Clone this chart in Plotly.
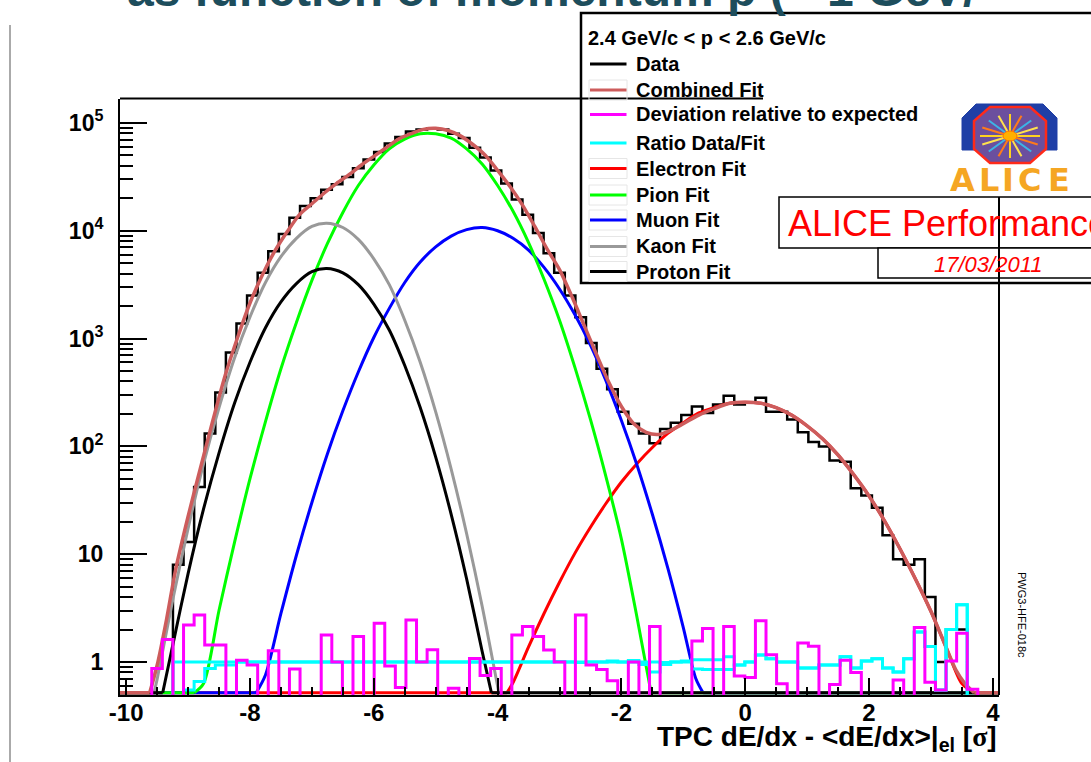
import numpy as np
import plotly.graph_objects as go

# ------------------------------------------------------------------ data
x_low, x_high, n_bins = -10.1, 4.1, 83

data_counts = [0, 0, 0, 0, 0, 8, 13, 42, 132, 316,
               741, 1380, 2510, 4070, 6460, 9330, 13200, 17000, 20000, 24000,
               27000, 31600, 38000, 45700, 53700, 64600, 74100, 83200, 87100, 89100,
               87100, 79400, 72400, 58900, 47900, 36300, 27500, 19500, 14100, 9550,
               6170, 4070, 2510, 1580, 912, 525, 339, 209, 162, 132,
               107, 145, 166, 195, 234, 204, 245, 295, 245, 257,
               282, 209, 209, 178, 135, 110, 100, 74, 72, 41,
               35, 27, 15, 9, 8, 9, 4, 1, 2, 2,
               0, 0, 0]

deviation = [0, 0, 0, 0.87, 1.62, 0, 2.2, 2.73, 1.44, 1.44,
             0, 1.04, 0.94, 0, 1.27, 0, 0.86, 0, 0, 1.78,
             1.0, 0, 1.72, 0, 2.29, 0.92, 0.58, 2.45, 1.0, 1.3,
             0, 0.57, 0, 1.08, 0.75, 0.87, 0, 1.78, 2.13, 1.72,
             1.29, 1.0, 0, 2.73, 0.94, 0.85, 0.67, 0, 1.0, 0,
             2.13, 0, 0, 0, 1.57, 2.05, 0, 2.13, 0.74, 0.72,
             2.42, 1.17, 0.63, 0, 1.5, 1.4, 0, 0.62, 1.04, 0.8,
             0, 0, 0, 0.68, 0, 2.09, 0.65, 0.55, 1.02, 1.85,
             0.56, 0, 0]

ratio_main = [0, 0, 0, 0, 0, 1.0, 1.0, 1.0, 1.0, 1.0,
              1.0, 1.0, 1.0, 1.0, 1.0, 1.0, 1.0, 1.0, 1.0, 1.0,
              1.0, 1.0, 1.0, 1.0, 1.0, 1.0, 1.0, 1.0, 1.0, 1.0,
              1.0, 1.0, 1.0, 1.0, 1.0, 1.0, 1.0, 1.0, 1.0, 1.0,
              1.0, 1.01, 1.0, 0.99, 1.0, 1.0, 1.02, 1.0, 1.03, 1.0,
              1.0, 0.99, 1.0, 1.02, 1.05, 1.05, 1.05, 1.12, 0.94, 1.0,
              1.16, 1.07, 1.0, 1.0, 0.88, 0.88, 0.94, 0.94, 1.12, 0.88,
              1.02, 1.07, 0.88, 0.81, 1.07, 1.9, 1.39, 0.55, 2.0, 3.4,
              0, 0, 0]

ratio_low = [0, 0, 0, 0, 0, 0, 0.55, 0.66, 0.87, 0.94,
             0.94, 1.0, 1.0, 1.0, 1.0, 1.0, 1.0, 1.0, 1.0, 1.0,
             1.0, 1.0, 1.0, 1.0, 1.0, 1.0, 1.0, 1.0, 1.0, 1.0,
             1.0, 1.0, 1.0, 1.0, 1.0, 1.0, 1.0, 1.0, 1.0, 1.0,
             1.0, 1.0, 1.0, 1.0, 1.0, 1.0, 1.0, 1.0, 1.0, 0.95,
             0.81, 0.95, 1.0, 1.0, 0.86, 0.85, 0.85, 0.85, 0.94, 1.0,
             1.16, 1.07, 1.0, 1.0, 0.88, 0.88, 0.94, 0.94, 1.12, 0.88,
             1.02, 1.07, 0.88, 0.81, 1.07, 1.9, 1.39, 0.55, 2.0, 3.4,
             0, 0, 0]

# fit curves: sample positions and log10(counts)
comb_x = [-9.62, -9.5, -9.35, -9.2, -9.0, -8.8, -8.6, -8.4, -8.2, -8.0,
          -7.8, -7.6, -7.4, -7.2, -7.0, -6.8, -6.6, -6.4, -6.2, -6.0,
          -5.8, -5.6, -5.4, -5.2, -5.0, -4.8, -4.6, -4.4, -4.2, -4.0,
          -3.8, -3.6, -3.4, -3.2, -3.0, -2.8, -2.6, -2.4, -2.2, -2.0,
          -1.8, -1.6, -1.4, -1.2, -1.0, -0.75, -0.5, -0.25, 0.0, 0.25,
          0.5, 0.75, 1.0, 1.25, 1.5, 1.75, 2.0, 2.25, 2.5, 2.75,
          3.0, 3.2, 3.4, 3.55, 3.7]
comb_log = [-0.29, -0.03, 0.39, 0.86, 1.35, 1.80, 2.24, 2.66, 3.01, 3.33,
            3.59, 3.81, 3.99, 4.15, 4.25, 4.35, 4.44, 4.52, 4.61, 4.69,
            4.77, 4.85, 4.90, 4.94, 4.95, 4.93, 4.88, 4.80, 4.70, 4.56,
            4.41, 4.24, 4.04, 3.83, 3.64, 3.39, 3.12, 2.85, 2.59, 2.37,
            2.21, 2.13, 2.11, 2.15, 2.21, 2.29, 2.35, 2.40, 2.41, 2.40,
            2.36, 2.29, 2.19, 2.07, 1.92, 1.74, 1.54, 1.31, 1.05, 0.77,
            0.47, 0.20, -0.07, -0.20, -0.29]

electron_x = [-3.85, -3.75, -3.5, -3.25, -3.0, -2.75, -2.5, -2.25, -2.0, -1.75,
              -1.5, -1.25, -1.0, -0.75, -0.5, -0.25, 0.0, 0.25, 0.5, 0.75,
              1.0, 1.25, 1.5, 1.75, 2.0, 2.25, 2.5, 2.75, 3.0, 3.25,
              3.5, 3.7]
electron_log = [-0.29, -0.19, 0.14, 0.45, 0.74, 1.01, 1.25, 1.47, 1.67, 1.84,
                1.99, 2.12, 2.22, 2.31, 2.36, 2.40, 2.41, 2.40, 2.36, 2.29,
                2.19, 2.07, 1.92, 1.74, 1.54, 1.31, 1.05, 0.77, 0.47, 0.13,
                -0.20, -0.29]

pion_x = [-8.9, -8.75, -8.5, -8.25, -8.0, -7.75, -7.5, -7.25, -7.0, -6.75,
          -6.5, -6.25, -6.0, -5.75, -5.5, -5.25, -5.0, -4.75, -4.5, -4.25,
          -4.0, -3.75, -3.5, -3.25, -3.0, -2.75, -2.5, -2.25, -2.0, -1.75,
          -1.52]
pion_log = [-0.29, -0.20, 0.48, 1.11, 1.70, 2.23, 2.72, 3.15, 3.54, 3.88,
            4.17, 4.42, 4.61, 4.76, 4.85, 4.90, 4.90, 4.86, 4.76, 4.62,
            4.42, 4.18, 3.89, 3.55, 3.17, 2.73, 2.25, 1.72, 1.14, 0.42,
            -0.29]

muon_x = [-7.9, -7.75, -7.5, -7.25, -7.0, -6.75, -6.5, -6.25, -6.0, -5.75,
          -5.5, -5.25, -5.0, -4.75, -4.5, -4.25, -4.0, -3.75, -3.5, -3.25,
          -3.0, -2.75, -2.5, -2.25, -2.0, -1.75, -1.5, -1.25, -1.0, -0.8,
          -0.68]
muon_log = [-0.29, -0.12, 0.45, 0.99, 1.48, 1.93, 2.33, 2.69, 3.01, 3.28,
            3.52, 3.71, 3.85, 3.95, 4.01, 4.03, 4.00, 3.93, 3.82, 3.66,
            3.46, 3.22, 2.94, 2.61, 2.24, 1.83, 1.37, 0.87, 0.32, -0.15,
            -0.29]

kaon_x = [-9.55, -9.5, -9.25, -9.0, -8.75, -8.5, -8.25, -8.0, -7.75, -7.5,
          -7.25, -7.0, -6.76, -6.5, -6.25, -6.0, -5.75, -5.5, -5.25, -5.0,
          -4.75, -4.5, -4.25, -3.98]
kaon_log = [-0.29, -0.16, 0.57, 1.24, 1.84, 2.36, 2.82, 3.20, 3.52, 3.76,
            3.93, 4.04, 4.07, 4.03, 3.92, 3.74, 3.50, 3.17, 2.78, 2.32,
            1.79, 1.19, 0.52, -0.29]

proton_x = [-9.41, -9.25, -9.0, -8.75, -8.5, -8.25, -8.0, -7.75, -7.5, -7.25,
            -7.0, -6.76, -6.5, -6.25, -6.0, -5.75, -5.5, -5.25, -5.0, -4.75,
            -4.5, -4.25, -4.1]
proton_log = [-0.29, 0.15, 0.82, 1.42, 1.94, 2.40, 2.78, 3.10, 3.34, 3.51,
              3.62, 3.65, 3.61, 3.50, 3.32, 3.08, 2.75, 2.36, 1.90, 1.37,
              0.77, 0.10, -0.29]

y_tick_vals = [1, 10, 100, 1000, 10000, 100000]
y_tick_text = ["1", "10", "10<sup>2</sup>", "10<sup>3</sup>", "10<sup>4</sup>", "10<sup>5</sup>"]
x_tick_vals = [-10, -8, -6, -4, -2, 0, 2, 4]
x_tick_text = ["-10", "-8", "-6", "-4", "-2", "0", "2", "4"]

legend_header = "2.4 GeV/c &lt; p &lt; 2.6 GeV/c"
legend_labels = ["Data", "Combined Fit", "Deviation relative to expected", "Ratio Data/Fit",
                 "Electron Fit", "Pion Fit", "Muon Fit", "Kaon Fit", "Proton Fit"]
legend_colors = ["#000000", "#cd5c5c", "#ff00ff", "#00ffff", "#ff0000",
                 "#00ff00", "#0000ff", "#999999", "#000000"]

# ------------------------------------------------------------------ geometry
W, H = 1091, 762
L, R, T, B = 120, 999, 99, 695
LOG_LO, LOG_HI = -0.306, 5.222
Y_FLOOR = 10 ** (-0.285)      # fitted curves sitting on the frame bottom
Y_HIDDEN = 0.2                # empty histogram bins (below the frame)
FONT = "Liberation Sans, Arial, Helvetica"


def px(x):
    return (x - L) / (R - L)


def py(y):
    return (B - y) / (B - T)


edges = np.linspace(x_low, x_high, n_bins + 1)


def step_xy(vals):
    v = np.asarray(vals, dtype=float)
    v = np.where(v > 0, v, Y_HIDDEN)
    xs = list(edges[:-1]) + [edges[-1]]
    ys = list(v) + [v[-1]]
    return xs, ys


fig = go.Figure()

# data histogram
xs, ys = step_xy(data_counts)
fig.add_trace(go.Scatter(x=xs, y=ys, mode="lines", line=dict(color="#000000", width=2.5, shape="hv"),
                         hoverinfo="skip", showlegend=False))


def add_fit(cx, clog, color, width=3):
    cx = list(cx)
    yv = [max(10 ** v, Y_FLOOR) for v in clog]
    fig.add_trace(go.Scatter(x=[x_low, cx[0], None, cx[-1], x_high],
                             y=[Y_FLOOR, Y_FLOOR, None, Y_FLOOR, Y_FLOOR],
                             mode="lines", line=dict(color=color, width=width),
                             hoverinfo="skip", showlegend=False))
    fig.add_trace(go.Scatter(x=cx, y=yv, mode="lines",
                             line=dict(color=color, width=width, shape="spline", smoothing=0.8),
                             hoverinfo="skip", showlegend=False))


add_fit(electron_x, electron_log, "#ff0000")
add_fit(muon_x, muon_log, "#0000ff")
add_fit(pion_x, pion_log, "#00ff00")
add_fit(kaon_x, kaon_log, "#999999")
add_fit(proton_x, proton_log, "#000000")
add_fit(comb_x, comb_log, "#cd5c5c", width=3.5)

# ratio and deviation histograms
for arr in (ratio_low, ratio_main):
    xs, ys = step_xy(arr)
    fig.add_trace(go.Scatter(x=xs, y=ys, mode="lines", line=dict(color="#00ffff", width=3, shape="hv"),
                             hoverinfo="skip", showlegend=False))
xs, ys = step_xy(deviation)
fig.add_trace(go.Scatter(x=xs, y=ys, mode="lines", line=dict(color="#ff00ff", width=3, shape="hv"),
                         hoverinfo="skip", showlegend=False))

# ------------------------------------------------------------------ decorations
shapes = []
ann = []

# slide edge line at the left
shapes.append(dict(type="line", xref="paper", yref="paper", x0=px(10), x1=px(10), y0=py(25), y1=py(762),
                   line=dict(color="#aaaaaa", width=2)))

# legend box
shapes.append(dict(type="rect", xref="paper", yref="paper", x0=px(581), x1=px(1110), y0=py(283), y1=py(13),
                   fillcolor="white", line=dict(color="black", width=2.5), layer="above"))
# frame top line (drawn across part of the legend as in the original)
shapes.append(dict(type="line", xref="paper", yref="paper", x0=0, x1=px(763), y0=py(98.5), y1=py(98.5),
                   line=dict(color="black", width=2), layer="above"))

# legend entries
ann.append(dict(x=px(586), y=py(38), xref="paper", yref="paper", text=legend_header, showarrow=False,
                xanchor="left", yanchor="middle",
                font=dict(family=FONT, size=20, color="black", weight="bold")))
entry_y = [64, 90, 114.5, 143, 168.5, 195, 220, 246.5, 271.5]
boxed = {1, 4, 5, 6, 7, 8}
for i, (lab, col, yy) in enumerate(zip(legend_labels, legend_colors, entry_y)):
    if i in boxed:
        shapes.append(dict(type="rect", xref="paper", yref="paper", x0=px(589), x1=px(627),
                           y0=py(yy + 10), y1=py(yy - 10), line=dict(color="#e6e6e6", width=1),
                           fillcolor="rgba(0,0,0,0)", layer="above"))
    shapes.append(dict(type="line", xref="paper", yref="paper", x0=px(590), x1=px(626.5),
                       y0=py(yy), y1=py(yy), line=dict(color=col, width=3), layer="above"))
    ann.append(dict(x=px(634), y=py(yy), xref="paper", yref="paper", text=lab, showarrow=False,
                    xanchor="left", yanchor="middle",
                    font=dict(family=FONT, size=20, color="black", weight="bold")))

# ALICE logo (simplified)
outer = [(962, 150), (962, 118), (976, 104), (1043, 104), (1057, 118), (1057, 150)]
path = "M " + " L ".join(f"{px(a)},{py(b)}" for a, b in outer) + " Z"
shapes.append(dict(type="path", xref="paper", yref="paper", path=path, fillcolor="#1f3fa6",
                   line=dict(color="#1f3fa6", width=1), layer="above"))
octo = [(990, 107), (1030, 107), (1046, 121), (1046, 149), (1030, 163), (990, 163), (974, 149), (974, 121)]
path = "M " + " L ".join(f"{px(a)},{py(b)}" for a, b in octo) + " Z"
shapes.append(dict(type="path", xref="paper", yref="paper", path=path, fillcolor="#6b4f9e",
                   line=dict(color="#ff2a1a", width=2.5), layer="above"))
cx0, cy0 = 1010, 136
for k in range(16):
    ang = 2 * np.pi * k / 16
    col = ["#ffd21f", "#ff7a1a", "#3cb4e6", "#ffe14d"][k % 4]
    shapes.append(dict(type="line", xref="paper", yref="paper", x0=px(cx0), y0=py(cy0),
                       x1=px(cx0 + 30 * np.cos(ang)), y1=py(cy0 + 22 * np.sin(ang)),
                       line=dict(color=col, width=2), layer="above"))
shapes.append(dict(type="circle", xref="paper", yref="paper", x0=px(1003), x1=px(1017), y0=py(131), y1=py(141),
                   fillcolor="#ffb000", line=dict(color="#ff7000", width=1), layer="above"))
for letter, cxl in zip("ALICE", [962, 989, 1008, 1029, 1059]):
    ann.append(dict(x=px(cxl), y=py(180), xref="paper", yref="paper", text=letter, showarrow=False,
                    xanchor="center", yanchor="middle",
                    font=dict(family="DejaVu Sans", size=32, color="#f5a623", weight="bold")))

# ALICE Performance box and date box
shapes.append(dict(type="rect", xref="paper", yref="paper", x0=px(779), x1=px(1110), y0=py(248), y1=py(197),
                   fillcolor="white", line=dict(color="black", width=1.5), layer="above"))
shapes.append(dict(type="rect", xref="paper", yref="paper", x0=px(878), x1=px(1110), y0=py(278), y1=py(248),
                   fillcolor="white", line=dict(color="black", width=1.5), layer="above"))
ann.append(dict(x=px(786), y=py(223), xref="paper", yref="paper", text="ALICE Performance", showarrow=False,
                xanchor="left", yanchor="middle",
                font=dict(family=FONT, size=36, color="#ff0000")))
ann.append(dict(x=px(988), y=py(264), xref="paper", yref="paper", text="<i>17/03/2011</i>", showarrow=False,
                xanchor="center", yanchor="middle",
                font=dict(family=FONT, size=22, color="#ff0000")))

# frame right line
shapes.append(dict(type="line", xref="paper", yref="paper", x0=px(999), x1=px(999), y0=py(197), y1=0,
                   line=dict(color="black", width=2), layer="above"))

# vertical label
ann.append(dict(x=px(1022), y=py(615), xref="paper", yref="paper", text="PWG3-HFE-018c", showarrow=False,
                textangle=90, xanchor="center", yanchor="middle",
                font=dict(family=FONT, size=11, color="black")))

# x-axis title
ann.append(dict(x=px(999), y=py(738), xref="paper", yref="paper",
                text="TPC dE/dx - &lt;dE/dx&gt;|<sub>el</sub> [<span style=\"font-family:'Liberation Serif'\">σ</span>]",
                showarrow=False, xanchor="right", yanchor="middle",
                font=dict(family=FONT, size=28, color="black", weight="bold")))

# slide title, mostly cut at the top of the page
ann.append(dict(x=px(126), y=py(17), xref="paper", yref="paper",
                text="as function of momentum p (~ 1 GeV/", showarrow=False,
                xanchor="left", yanchor="bottom", borderpad=0,
                font=dict(family=FONT, size=48, color="#1d4d5c", weight="bold")))

minor_y = [m * 10 ** d for d in range(-1, 6) for m in range(2, 10) if 0.49 < m * 10 ** d < 1.7e5]
minor_y += [0.5, 0.6, 0.7, 0.8, 0.9]

fig.update_layout(
    width=W, height=H, margin=dict(l=L, r=W - R, t=T, b=H - B),
    paper_bgcolor="white", plot_bgcolor="white",
    shapes=shapes, annotations=ann, showlegend=False,
    xaxis=dict(range=[x_low, x_high], showgrid=False, zeroline=False, showline=True, linecolor="black",
               linewidth=2, ticks="inside", ticklen=17, tickwidth=2, tickcolor="black",
               tickmode="array", tickvals=x_tick_vals, ticktext=x_tick_text,
               minor=dict(ticks="inside", ticklen=8, tickwidth=2, tickcolor="black", dtick=0.5, tick0=0),
               tickfont=dict(family=FONT, size=24, color="black", weight="bold"),
               ticklabelstandoff=-5),
    yaxis=dict(type="log", range=[LOG_LO, LOG_HI], showgrid=False, zeroline=False, showline=True,
               linecolor="black", linewidth=2, ticks="inside", ticklen=27, tickwidth=2, tickcolor="black",
               tickmode="array", tickvals=y_tick_vals, ticktext=y_tick_text,
               minor=dict(ticks="inside", ticklen=13, tickwidth=1.5, tickcolor="black", tickmode="array",
                          tickvals=minor_y),
               tickfont=dict(family=FONT, size=23, color="black", weight="bold"),
               ticklabelstandoff=10),
)

fig.write_html("out.html")
